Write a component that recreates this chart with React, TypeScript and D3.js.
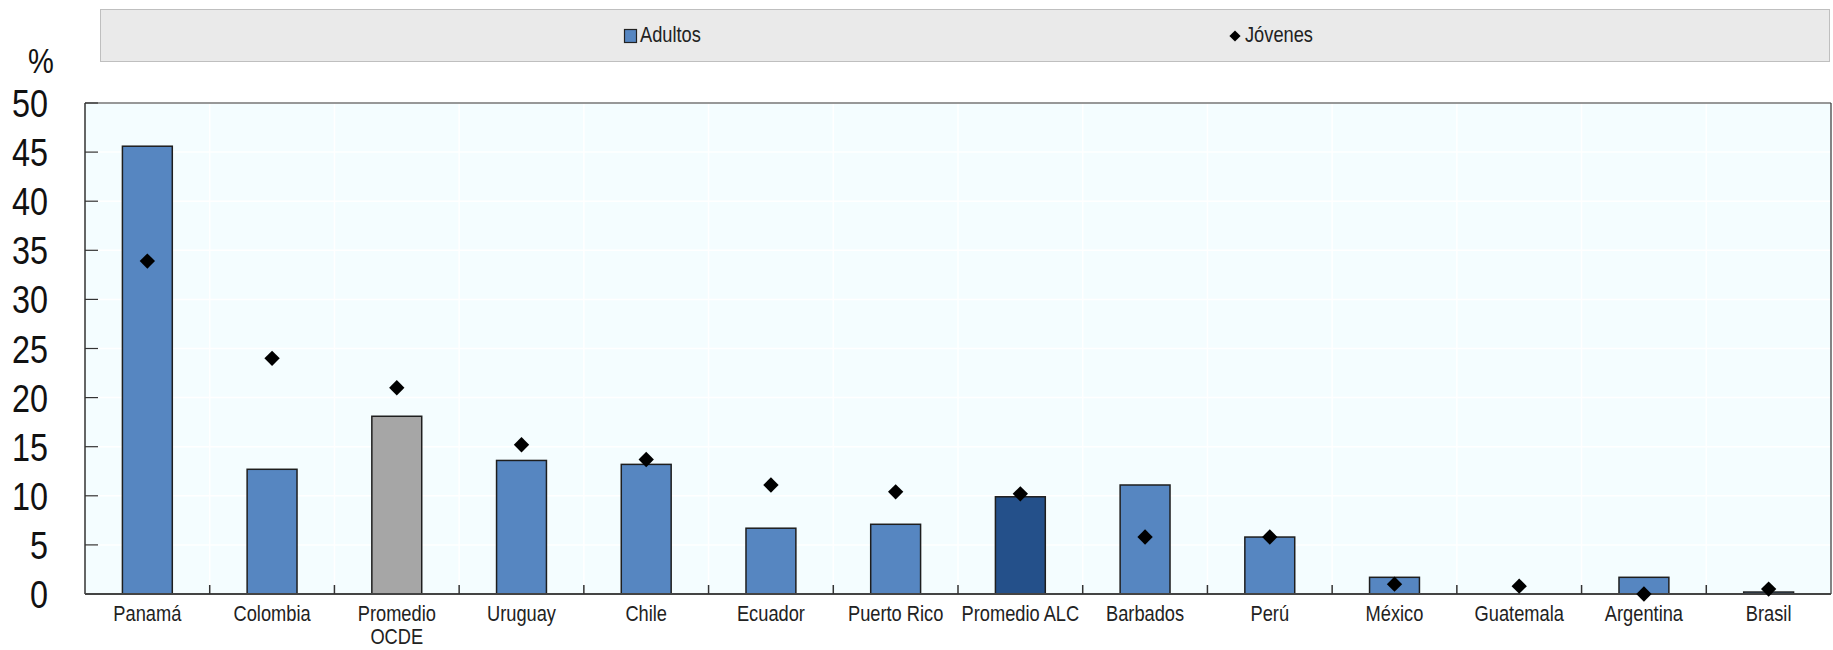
import React from "react";
import * as d3 from "d3";

const categories = ["Panamá", "Colombia", "Promedio OCDE", "Uruguay", "Chile", "Ecuador", "Puerto Rico", "Promedio ALC", "Barbados", "Perú", "México", "Guatemala", "Argentina", "Brasil"];
const adultos = [45.6, 12.7, 18.1, 13.6, 13.2, 6.7, 7.1, 9.9, 11.1, 5.8, 1.7, 0, 1.7, 0.2];
const jovenes = [33.9, 24.0, 21.0, 15.2, 13.7, 11.1, 10.4, 10.2, 5.8, 5.8, 1.0, 0.8, 0.0, 0.5];
const yTicks = [0, 5, 10, 15, 20, 25, 30, 35, 40, 45, 50];
const barColors: Record<string, string> = { "Promedio OCDE": "#A6A6A6", "Promedio ALC": "#24508A" };
const legendLabels = ["Adultos", "Jóvenes"];

const W = 1833, H = 650;
const L = 85, R = 1831, T = 103, B = 594;
const FONT = "'Liberation Sans', Arial, sans-serif";
const SX = 0.83;

export default function App() {
  const x = d3.scaleBand<string>().domain(categories).range([L, R]).paddingInner(0).paddingOuter(0);
  const y = d3.scaleLinear().domain([0, 50]).range([B, T]);
  const bw = x.bandwidth() * 0.4;
  const diamond = d3.symbol().type(d3.symbolDiamond2).size(150)() as string;
  const legDiamond = d3.symbol().type(d3.symbolDiamond2).size(80)() as string;

  return (
    <svg width={W} height={H} style={{ position: "absolute", left: 0, top: 0, background: "#fff" }} fontFamily={FONT}>
      {/* legend */}
      <rect x={100.5} y={9.5} width={1729} height={52} fill="#EAEAEA" stroke="#BFBFBF" strokeWidth={1} />
      <rect x={624.5} y={29.5} width={12} height={13} fill="#5686C1" stroke="#222" strokeWidth={1.2} />
      <text transform={`translate(640,42) scale(${SX},1)`} fontSize={22} fill="#222">{legendLabels[0]}</text>
      <path d={legDiamond} transform="translate(1235,36)" fill="#000" />
      <text transform={`translate(1245,42) scale(${SX},1)`} fontSize={22} fill="#222">{legendLabels[1]}</text>

      {/* % label */}
      <text transform={`translate(41,73) scale(${SX},1)`} textAnchor="middle" fontSize={35} fill="#111">%</text>

      {/* plot background */}
      <rect x={L} y={T} width={R - L} height={B - T} fill="#F4FDFF" />
      {yTicks.slice(1).map((t) => (
        <line key={"g" + t} x1={L} x2={R} y1={y(t)} y2={y(t)} stroke="#ffffff" strokeWidth={1.5} />
      ))}
      {categories.slice(1).map((c) => (
        <line key={"vg" + c} x1={x(c)!} x2={x(c)!} y1={T} y2={B} stroke="#ffffff" strokeWidth={1.5} />
      ))}

      {/* bars */}
      {categories.map((c, i) =>
        adultos[i] > 0 ? (
          <rect
            key={"b" + c}
            x={x(c)! + x.bandwidth() / 2 - bw / 2}
            y={y(adultos[i])}
            width={bw}
            height={B - y(adultos[i])}
            fill={barColors[c] || "#5686C1"}
            stroke="#1e1e1e"
            strokeWidth={1.5}
          />
        ) : null
      )}

      {/* axes */}
      <line x1={L} x2={L} y1={T} y2={B} stroke="#333" strokeWidth={1.5} />
      <line x1={L} x2={R} y1={T} y2={T} stroke="#333" strokeWidth={1.2} />
      <line x1={R} x2={R} y1={T} y2={B} stroke="#333" strokeWidth={1.2} />
      <line x1={L} x2={R} y1={B} y2={B} stroke="#444" strokeWidth={2} />
      {yTicks.slice(1).map((t) => (
        <line key={"yt" + t} x1={L} x2={L + 13} y1={y(t)} y2={y(t)} stroke="#333" strokeWidth={1.2} />
      ))}
      {categories.slice(1).map((c) => (
        <line key={"xt" + c} x1={x(c)!} x2={x(c)!} y1={B} y2={B - 9} stroke="#333" strokeWidth={1.5} />
      ))}

      {/* jóvenes diamonds */}
      {categories.map((c, i) => (
        <path key={"d" + c} d={diamond} transform={`translate(${x(c)! + x.bandwidth() / 2},${y(jovenes[i])})`} fill="#000" />
      ))}

      {/* y tick labels */}
      {yTicks.map((t) => (
        <text key={"yl" + t} transform={`translate(48,${y(t) + 14}) scale(${SX},1)`} textAnchor="end" fontSize={39} fill="#111">
          {t}
        </text>
      ))}

      {/* x labels */}
      {categories.map((c) => {
        const cx = x(c)! + x.bandwidth() / 2;
        const lines = c === "Promedio OCDE" ? ["Promedio", "OCDE"] : [c];
        return (
          <text key={"xl" + c} transform={`translate(${cx},621) scale(${SX},1)`} textAnchor="middle" fontSize={22} fill="#222">
            {lines.map((ln, k) => (
              <tspan key={k} x={0} dy={k === 0 ? 0 : 23}>
                {ln}
              </tspan>
            ))}
          </text>
        );
      })}
    </svg>
  );
}
